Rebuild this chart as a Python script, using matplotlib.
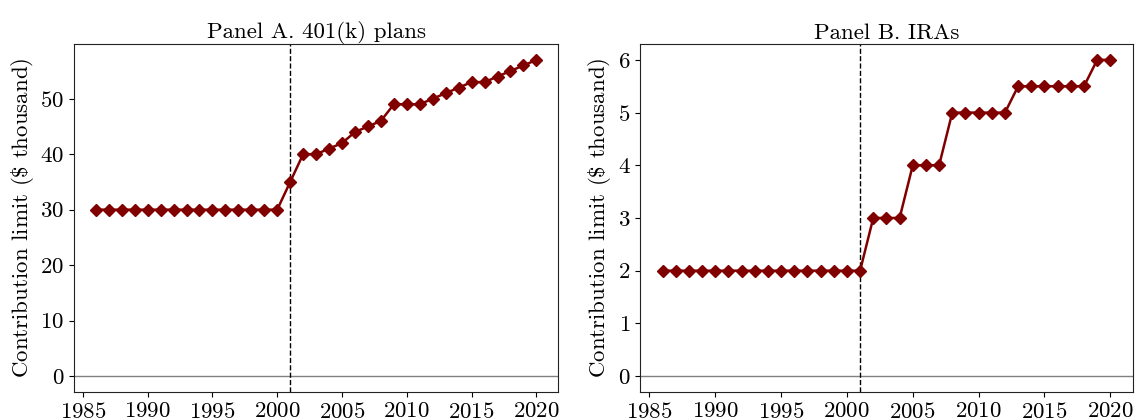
import matplotlib
matplotlib.use("Agg")
import matplotlib.pyplot as plt

plt.rcParams.update({
    "font.family": "serif",
    "font.serif": ["cmr10"],
    "mathtext.fontset": "cm",
    "axes.formatter.use_mathtext": True,
    "axes.unicode_minus": False,
})

years = list(range(1986, 2021))
limit_401k = [30] * 15 + [35, 40, 40, 41, 42, 44, 45, 46, 49, 49, 49, 50, 51, 52,
                          53, 53, 54, 55, 56, 57]
limit_ira = [2] * 16 + [3, 3, 3, 4, 4, 4, 5, 5, 5, 5, 5, 5.5, 5.5, 5.5, 5.5, 5.5,
                        5.5, 6, 6]
titles = ["Panel A. 401(k) plans", "Panel B. IRAs"]
reform_year = 2001
ylabel = r"Contribution limit ($\$$ thousand)"

fig = plt.figure(figsize=(11.35, 4.2), dpi=100)
ax_a = fig.add_axes([0.065, 0.067, 0.427, 0.828])
ax_b = fig.add_axes([0.564, 0.067, 0.434, 0.828])

for ax, series, title in zip([ax_a, ax_b], [limit_401k, limit_ira], titles):
    ax.plot(years, series, color="#800000", lw=1.8, marker="D",
            markersize=6.5, zorder=3)
    ax.axhline(0, color="grey", lw=1.0, zorder=1)
    ax.axvline(reform_year, color="black", lw=1.0, ls="--", zorder=2)
    ax.set_title(title, fontsize=16.5, pad=4)
    ax.set_ylabel(ylabel, fontsize=16.5, labelpad=3)
    ax.set_xticks(range(1985, 2021, 5))
    ax.tick_params(labelsize=16.5)
    for sp in ax.spines.values():
        sp.set_color("#222222")

ax_a.set_yticks(range(0, 51, 10))
ax_b.set_yticks(range(0, 7))

fig.savefig("out.png", dpi=100)
